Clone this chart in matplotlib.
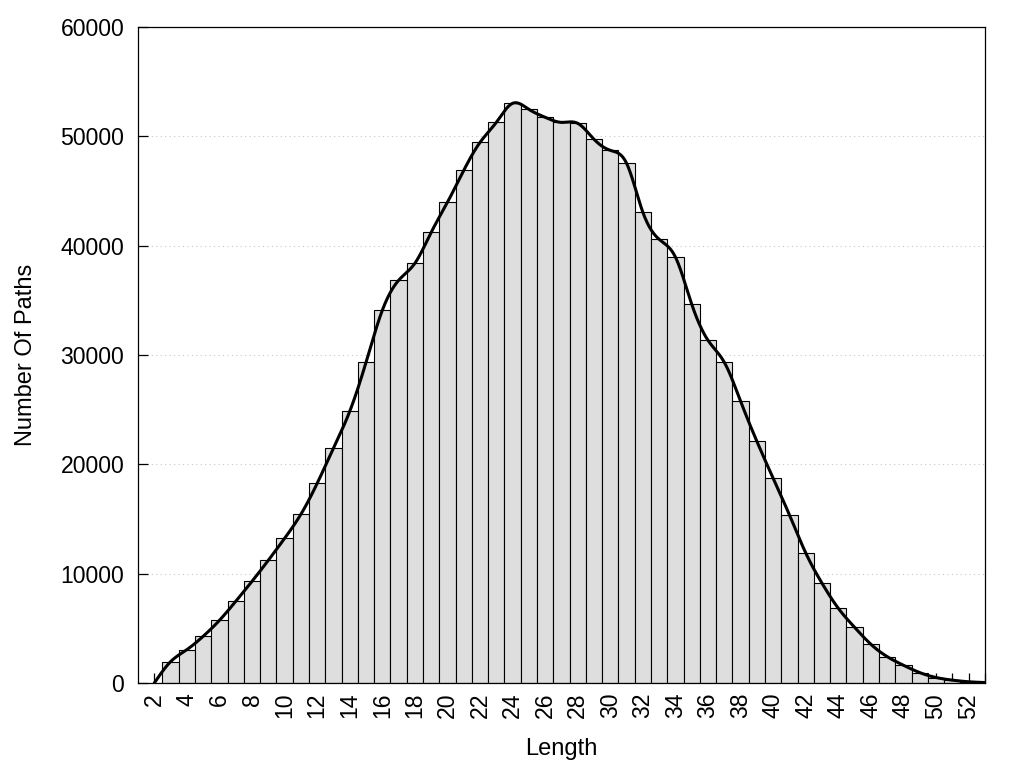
import numpy as np
import matplotlib
matplotlib.use("Agg")
import matplotlib.pyplot as plt

plt.rcParams['font.family'] = ['Liberation Sans', 'DejaVu Sans']

# path length and counts
lengths = list(range(3, 54))
counts = [1950, 3050, 4270, 5730, 7470, 9300, 11220, 13230, 15430, 18260,
          21470, 24850, 29330, 34090, 36830, 38390, 41220, 43970, 46890, 49450,
          51280, 53020, 52470, 51740, 51280, 51190, 49730, 48720, 47530, 43050,
          40580, 38950, 34640, 31340, 29330, 25770, 22100, 18720, 15370, 11890,
          9120, 6830, 5090, 3540, 2410, 1620, 950, 500, 260, 110, 40]

# curve anchors (start at zero at length 2)
curve_x = [2] + lengths
curve_y = [0] + counts

xtick_vals = list(range(2, 54))
xtick_labels = [str(v) if v % 2 == 0 else "" for v in xtick_vals]
ytick_vals = [0, 10000, 20000, 30000, 40000, 50000, 60000]


def natural_spline(x, y, n=2000):
    x = np.asarray(x, float)
    y = np.asarray(y, float)
    m = len(x)
    h = np.diff(x)
    A = np.zeros((m, m))
    b = np.zeros(m)
    A[0, 0] = 1
    A[-1, -1] = 1
    for i in range(1, m - 1):
        A[i, i - 1] = h[i - 1]
        A[i, i] = 2 * (h[i - 1] + h[i])
        A[i, i + 1] = h[i]
        b[i] = 3 * ((y[i + 1] - y[i]) / h[i] - (y[i] - y[i - 1]) / h[i - 1])
    c = np.linalg.solve(A, b)
    xs = np.linspace(x[0], x[-1], n)
    idx = np.clip(np.searchsorted(x, xs) - 1, 0, m - 2)
    dx = xs - x[idx]
    bb = (y[idx + 1] - y[idx]) / h[idx] - h[idx] * (2 * c[idx] + c[idx + 1]) / 3
    d = (c[idx + 1] - c[idx]) / (3 * h[idx])
    ys = y[idx] + bb * dx + c[idx] * dx ** 2 + d * dx ** 3
    return xs, ys


fig = plt.figure(figsize=(10.24, 7.68), dpi=100)
ax = fig.add_axes([0.1348, 0.1107, 0.827, 0.8541])

ax.yaxis.grid(True, linestyle=(0, (1, 3)), color='#c8c8c8', linewidth=0.8)
ax.set_axisbelow(True)

ax.bar(lengths, counts, width=1.0, color='#dedede', edgecolor='black',
       linewidth=0.8, zorder=2)

cx, cy = natural_spline(curve_x, curve_y)
ax.plot(cx, cy, color='black', linewidth=2.2, zorder=3, solid_capstyle='round')

ax.set_xlim(1, 53)
ax.set_ylim(0, 60000)
ax.set_xticks(xtick_vals)
ax.set_xticklabels(xtick_labels, rotation=90, fontsize=16.6)
ax.set_yticks(ytick_vals)
ax.set_yticklabels([str(v) for v in ytick_vals], fontsize=16.6)
ax.tick_params(axis='both', direction='in', length=7, width=0.9)
ax.tick_params(axis='x', pad=7.2)
ax.tick_params(axis='y', pad=10)
for s in ax.spines.values():
    s.set_linewidth(0.9)

ax.set_xlabel('Length', fontsize=17)
ax.set_ylabel('Number Of Paths', fontsize=17)
ax.xaxis.set_label_coords(0.5, -0.0838)
ax.yaxis.set_label_coords(-0.1192, 0.5)

fig.savefig('out.png', dpi=100)
